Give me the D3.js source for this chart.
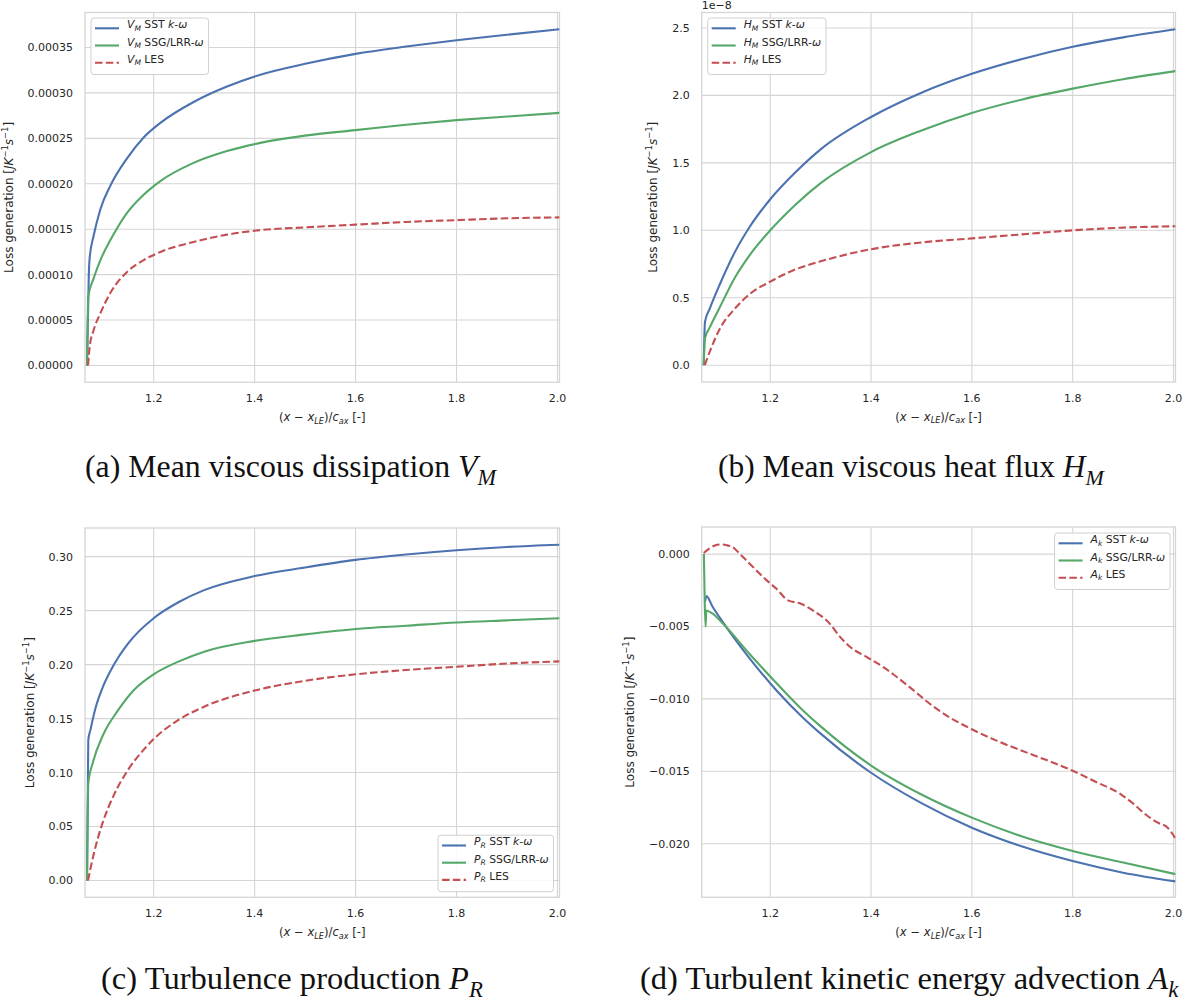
<!DOCTYPE html>
<html>
<head>
<meta charset="utf-8">
<script src="https://cdn.jsdelivr.net/npm/d3@7"></script>
<style>
  body { margin: 0; background: #fff; }
  svg { display: block; }
</style>
</head>
<body>
<svg id="chart" width="1194" height="1006"></svg>
<script>
'use strict'

// x ticks shared by all four panels
const xTicks = [1.2, 1.4, 1.6, 1.8, 2.0]

// (a) mean viscous dissipation V_M
const vmTicks = [0, 0.00005, 0.0001, 0.00015, 0.0002, 0.00025, 0.0003, 0.00035]
const vmSstX = [1.068, 1.0715, 1.0735, 1.0812, 1.0945, 1.1143, 1.1473, 1.1802, 1.2133, 1.2792, 1.3453, 1.4113, 1.5, 1.6, 1.7, 1.8, 1.9, 2.004]
const vmSstY = [0, 0.0001, 0.00012, 0.000143, 0.000172, 0.000198, 0.000228, 0.000251, 0.000267, 0.00029, 0.000307, 0.00032, 0.000332, 0.000343, 0.000351, 0.000358, 0.000364, 0.00037]
const vmSsgX = [1.068, 1.0705, 1.0812, 1.0945, 1.1143, 1.1473, 1.1802, 1.2133, 1.2792, 1.3453, 1.4113, 1.5, 1.6, 1.7, 1.8, 1.9, 2.004]
const vmSsgY = [0, 0.000076, 0.000096, 0.000116, 0.000138, 0.000168, 0.000188, 0.000203, 0.000223, 0.000236, 0.000245, 0.000253, 0.000259, 0.000265, 0.00027, 0.000274, 0.000278]
const vmLesX = [1.07, 1.0733, 1.0812, 1.0945, 1.1143, 1.1473, 1.1802, 1.2133, 1.2792, 1.3453, 1.4113, 1.5, 1.6, 1.7, 1.8, 1.9, 2.004]
const vmLesY = [0, 0.0000207, 0.000039, 0.0000575, 0.00008, 0.000103, 0.000116, 0.000125, 0.000136, 0.000144, 0.000149, 0.000152, 0.000155, 0.000158, 0.00016, 0.000162, 0.000163]

// (b) mean viscous heat flux H_M, in units of 1e-8
const hmTicks = [0, 0.5, 1.0, 1.5, 2.0, 2.5]
const hmSstX = [1.068, 1.0705, 1.08, 1.1, 1.13, 1.16, 1.2, 1.25, 1.3, 1.4, 1.5, 1.6, 1.7, 1.8, 1.9, 2.004]
const hmSstY = [0, 0.32, 0.42, 0.6, 0.84, 1.03, 1.23, 1.43, 1.6, 1.84, 2.02, 2.16, 2.27, 2.36, 2.43, 2.49]
const hmSsgX = [1.068, 1.0705, 1.08, 1.1, 1.13, 1.16, 1.2, 1.25, 1.3, 1.4, 1.5, 1.6, 1.7, 1.8, 1.9, 2.004]
const hmSsgY = [0, 0.2, 0.28, 0.43, 0.65, 0.82, 1.0, 1.19, 1.35, 1.58, 1.74, 1.87, 1.97, 2.05, 2.12, 2.18]
const hmLesX = [1.07, 1.08, 1.1, 1.13, 1.16, 1.2, 1.25, 1.3, 1.4, 1.5, 1.6, 1.7, 1.8, 1.9, 2.004]
const hmLesY = [0, 0.1, 0.27, 0.42, 0.53, 0.62, 0.71, 0.77, 0.86, 0.91, 0.94, 0.97, 1.0, 1.02, 1.03]

// (c) turbulence production P_R
const prTicks = [0, 0.05, 0.1, 0.15, 0.2, 0.25, 0.3]
const prSstX = [1.068, 1.0705, 1.075, 1.085, 1.1, 1.12, 1.15, 1.2, 1.25, 1.3, 1.4, 1.5, 1.6, 1.7, 1.8, 1.9, 2.004]
const prSstY = [0, 0.13, 0.14, 0.16, 0.18, 0.199, 0.22, 0.243, 0.258, 0.269, 0.282, 0.29, 0.297, 0.302, 0.306, 0.309, 0.311]
const prSsgX = [1.068, 1.0705, 1.08, 1.1, 1.13, 1.16, 1.2, 1.25, 1.3, 1.4, 1.5, 1.6, 1.7, 1.8, 1.9, 2.004]
const prSsgY = [0, 0.09, 0.11, 0.135, 0.158, 0.176, 0.191, 0.203, 0.212, 0.222, 0.228, 0.233, 0.236, 0.239, 0.241, 0.243]
const prLesX = [1.07, 1.08, 1.09, 1.1, 1.12, 1.15, 1.18, 1.2, 1.25, 1.3, 1.4, 1.5, 1.6, 1.7, 1.8, 1.9, 2.004]
const prLesY = [0, 0.022, 0.04, 0.055, 0.078, 0.103, 0.121, 0.131, 0.149, 0.161, 0.176, 0.185, 0.191, 0.195, 0.198, 0.201, 0.203]

// (d) turbulent kinetic energy advection A_k
const akTicks = [0, -0.005, -0.01, -0.015, -0.02]
const akSstX = [1.0705, 1.0735, 1.085, 1.106, 1.159, 1.212, 1.265, 1.3, 1.4, 1.5, 1.6, 1.7, 1.8, 1.9, 2.004]
const akSstY = [-0.0033, -0.0029, -0.0036, -0.0047, -0.0072, -0.0094, -0.0113, -0.0124, -0.0151, -0.0172, -0.0189, -0.0202, -0.0212, -0.022, -0.0226]
const akSsgX = [1.0684, 1.0718, 1.073, 1.085, 1.106, 1.159, 1.212, 1.265, 1.3, 1.4, 1.5, 1.6, 1.7, 1.8, 1.9, 2.004]
const akSsgY = [0, -0.005, -0.0039, -0.0041, -0.0048, -0.0069, -0.0089, -0.0108, -0.0119, -0.0146, -0.0166, -0.0182, -0.0195, -0.0205, -0.0213, -0.0221]
const akLesX = [1.068, 1.08, 1.09, 1.103, 1.115, 1.126, 1.14, 1.159, 1.1925, 1.2123, 1.2354, 1.2587, 1.285, 1.318, 1.338, 1.358, 1.391, 1.4243, 1.444, 1.484, 1.517, 1.55, 1.6, 1.65, 1.716, 1.8, 1.8485, 1.895, 1.921, 1.948, 1.968, 1.988, 2.0047]
const akLesY = [0.00007, 0.0004, 0.0006, 0.00067, 0.0006, 0.00048, 0.0000, -0.00066, -0.0018, -0.0024, -0.0032, -0.0034, -0.0039, -0.0048, -0.0057, -0.0064, -0.0071, -0.0078, -0.0083, -0.0094, -0.01035, -0.01115, -0.0121, -0.0129, -0.0138, -0.01496, -0.01577, -0.01657, -0.01726, -0.01807, -0.01853, -0.01888, -0.01968]

const colors = { sst: '#4c72b0', ssg: '#55a868', les: '#c44e52' }
const tickColor = '#262626'
const gridColor = '#d5d5d5'
const sansFont = 'DejaVu Sans'
const serifFont = 'Liberation Serif'

const svg = d3.select('#chart')

// writes text made of [string, kind] parts; kind may hold 'i', 'sub', 'sup'
function richText (sel, parts, size) {
  let offset = 0
  for (const [str, kind = ''] of parts) {
    const want = kind.includes('sub') ? size * 0.24 : kind.includes('sup') ? -size * 0.4 : 0
    const t = sel.append('tspan').attr('dy', want - offset).text(str)
    offset = want
    if (kind.includes('i')) t.attr('font-style', 'italic')
    if (want !== 0) t.attr('font-size', size * 0.7)
  }
  return sel
}

class LossPanel {
  constructor (settings) {
    Object.assign(this, settings)
    this.x = d3.scaleLinear().domain([1.064, 2.004]).range([this.left, this.right])
    this.y = d3.scaleLinear().domain(this.yDomain).range([this.bottom, this.top])
    this.g = svg.append('g')
  }

  drawGrid () {
    const g = this.g.append('g')
    g.selectAll('line.vgrid').data(xTicks).enter().append('line')
      .attr('x1', d => this.x(d)).attr('x2', d => this.x(d))
      .attr('y1', this.top).attr('y2', this.bottom)
    g.selectAll('line.hgrid').data(this.yTicks).enter().append('line')
      .attr('x1', this.left).attr('x2', this.right)
      .attr('y1', d => this.y(d)).attr('y2', d => this.y(d))
    g.selectAll('line').attr('stroke', gridColor).attr('stroke-width', 1.1)

    this.g.append('rect')
      .attr('x', this.left).attr('y', this.top)
      .attr('width', this.right - this.left).attr('height', this.bottom - this.top)
      .attr('fill', 'none').attr('stroke', gridColor).attr('stroke-width', 1.3)
  }

  drawTicks () {
    const yFormat = d3.format(this.yFormat)
    const ty = this.g.append('g')
      .attr('font-family', sansFont).attr('font-size', 11).attr('fill', tickColor)
    ty.selectAll('text').data(this.yTicks).enter().append('text')
      .attr('x', this.left - 12).attr('y', d => this.y(d)).attr('dy', '0.36em')
      .attr('text-anchor', 'end')
      .text(d => yFormat(d))
    this.tickLeft = d3.min(ty.selectAll('text').nodes(), n => n.getBBox().x)

    this.g.append('g')
      .attr('font-family', sansFont).attr('font-size', 11).attr('fill', tickColor)
      .selectAll('text').data(xTicks).enter().append('text')
      .attr('x', d => this.x(d)).attr('y', this.bottom + 19.5)
      .attr('text-anchor', 'middle')
      .text(d => d.toFixed(1))

    if (this.offsetText) {
      this.g.append('text')
        .attr('x', this.left).attr('y', this.top - 4)
        .attr('font-family', sansFont).attr('font-size', 11).attr('fill', tickColor)
        .text(this.offsetText)
    }
  }

  drawLabels () {
    const xl = this.g.append('text')
      .attr('x', (this.left + this.right) / 2).attr('y', this.bottom + 38.5)
      .attr('text-anchor', 'middle')
      .attr('font-family', sansFont).attr('font-size', 11.6).attr('fill', tickColor)
    richText(xl, [['('], ['x', 'i'], [' \u2212 '], ['x', 'i'], ['LE', 'isub'], [')/'], ['c', 'i'], ['ax', 'isub'], [' [-]']], 11.6)

    const cx = this.tickLeft - 15
    const cy = (this.top + this.bottom) / 2
    const yl = this.g.append('text')
      .attr('transform', `translate(${cx},${cy}) rotate(-90)`)
      .attr('dy', '0.35em')
      .attr('text-anchor', 'middle')
      .attr('font-family', sansFont).attr('font-size', 12).attr('fill', tickColor)
    richText(yl, [['Loss generation ['], ['JK', 'i'], ['\u22121', 'sup'], ['s', 'i'], ['\u22121', 'sup'], [']']], 12)
  }

  drawSeries () {
    const clipId = `clip-${this.name}`
    this.g.append('clipPath').attr('id', clipId).append('rect')
      .attr('x', this.left).attr('y', this.top)
      .attr('width', this.right - this.left).attr('height', this.bottom - this.top)

    const line = d3.line()
      .x(d => this.x(d[0]))
      .y(d => this.y(d[1]))
      .curve(d3.curveMonotoneX)

    const lines = this.g.append('g').attr('clip-path', `url(#${clipId})`)
    for (const s of this.series) {
      const pts = d3.zip(s.x, s.y)
      lines.append('path')
        .attr('d', line(pts))
        .attr('fill', 'none')
        .attr('stroke', colors[s.key])
        .attr('stroke-width', 2.1)
        .attr('stroke-linejoin', 'round')
        .attr('stroke-dasharray', s.key === 'les' ? '7.5,3.3' : null)
    }
  }

  drawLegend () {
    const entries = [
      { key: 'sst', parts: [[' SST '], ['k', 'i'], ['-'], ['\u03c9', 'i']] },
      { key: 'ssg', parts: [[' SSG/LRR-'], ['\u03c9', 'i']] },
      { key: 'les', parts: [[' LES']] }
    ]
    const fs = 10.8
    const lg = this.g.append('g')
    const box = lg.append('rect')
    entries.forEach((e, i) => {
      const cy = 10.3 + i * 17.2
      lg.append('line')
        .attr('x1', 4).attr('x2', 28).attr('y1', cy).attr('y2', cy)
        .attr('stroke', colors[e.key]).attr('stroke-width', 2.1)
        .attr('stroke-dasharray', e.key === 'les' ? '7.5,3.3' : null)
      const t = lg.append('text')
        .attr('x', 36).attr('y', cy).attr('dy', '0.35em')
        .attr('font-family', sansFont).attr('font-size', fs).attr('fill', tickColor)
      richText(t, [[this.symbol[0], 'i'], [this.symbol[1], 'isub']].concat(e.parts), fs)
    })
    const textRight = d3.max(lg.selectAll('text').nodes(), n => { const b = n.getBBox(); return b.x + b.width })
    const w = textRight + 5
    const h = 56.5
    box.attr('width', w).attr('height', h).attr('rx', 3)
      .attr('fill', 'white').attr('fill-opacity', 0.85)
      .attr('stroke', '#d0d0d0').attr('stroke-width', 1)

    let lx = this.left + 6
    let ly = this.top + 5.5
    if (this.legend === 'lower right') {
      lx = this.right - 6 - w
      ly = this.bottom - 5.6 - h
    } else if (this.legend === 'upper right') {
      lx = this.right - 5.5 - w
      ly = this.top + 6
    }
    lg.attr('transform', `translate(${lx},${ly})`)
  }

  drawCaption () {
    const c = this.caption
    const make = size => {
      const t = svg.append('text')
        .attr('x', c.x0).attr('y', c.baseline)
        .attr('font-family', serifFont).attr('font-size', size).attr('fill', '#111')
      return richText(t, [[c.text], [c.symbol[0], 'i'], [c.symbol[1], 'isub']], size)
    }
    const probe = make(28)
    const measured = probe.node().getBBox().width
    probe.remove()
    make(28 * (c.x1 - c.x0) / measured)
  }

  draw () {
    this.drawGrid()
    this.drawSeries()
    this.drawTicks()
    this.drawLabels()
    this.drawLegend()
    this.drawCaption()
  }
}

const panels = [
  {
    name: 'a', left: 85, right: 559.5, top: 12.5, bottom: 382.3,
    yDomain: [-0.0000185, 0.0003885], yTicks: vmTicks, yFormat: '.5f',
    symbol: ['V', 'M'], legend: 'upper left',
    series: [
      { key: 'sst', x: vmSstX, y: vmSstY },
      { key: 'ssg', x: vmSsgX, y: vmSsgY },
      { key: 'les', x: vmLesX, y: vmLesY }
    ],
    caption: { text: '(a) Mean viscous dissipation ', symbol: ['V', 'M'], x0: 85, x1: 498, baseline: 477 }
  },
  {
    name: 'b', left: 701.7, right: 1175.5, top: 12.5, bottom: 382,
    yDomain: [-0.1245, 2.6145], yTicks: hmTicks, yFormat: '.1f', offsetText: '1e\u22128',
    symbol: ['H', 'M'], legend: 'upper left',
    series: [
      { key: 'sst', x: hmSstX, y: hmSstY },
      { key: 'ssg', x: hmSsgX, y: hmSsgY },
      { key: 'les', x: hmLesX, y: hmLesY }
    ],
    caption: { text: '(b) Mean viscous heat flux ', symbol: ['H', 'M'], x0: 718, x1: 1106, baseline: 477 }
  },
  {
    name: 'c', left: 85, right: 559.5, top: 528, bottom: 897.3,
    yDomain: [-0.01555, 0.32655], yTicks: prTicks, yFormat: '.2f',
    symbol: ['P', 'R'], legend: 'lower right',
    series: [
      { key: 'sst', x: prSstX, y: prSstY },
      { key: 'ssg', x: prSsgX, y: prSsgY },
      { key: 'les', x: prLesX, y: prLesY }
    ],
    caption: { text: '(c) Turbulence production ', symbol: ['P', 'R'], x0: 101, x1: 483, baseline: 989 }
  },
  {
    name: 'd', left: 701.7, right: 1175.5, top: 527, bottom: 897.3,
    yDomain: [-0.0237, 0.00187], yTicks: akTicks, yFormat: '.3f',
    symbol: ['A', 'k'], legend: 'upper right',
    series: [
      { key: 'sst', x: akSstX, y: akSstY },
      { key: 'ssg', x: akSsgX, y: akSsgY },
      { key: 'les', x: akLesX, y: akLesY }
    ],
    caption: { text: '(d) Turbulent kinetic energy advection ', symbol: ['A', 'k'], x0: 640, x1: 1179, baseline: 989 }
  }
]

panels.forEach(p => new LossPanel(p).draw())
</script>
</body>
</html>
